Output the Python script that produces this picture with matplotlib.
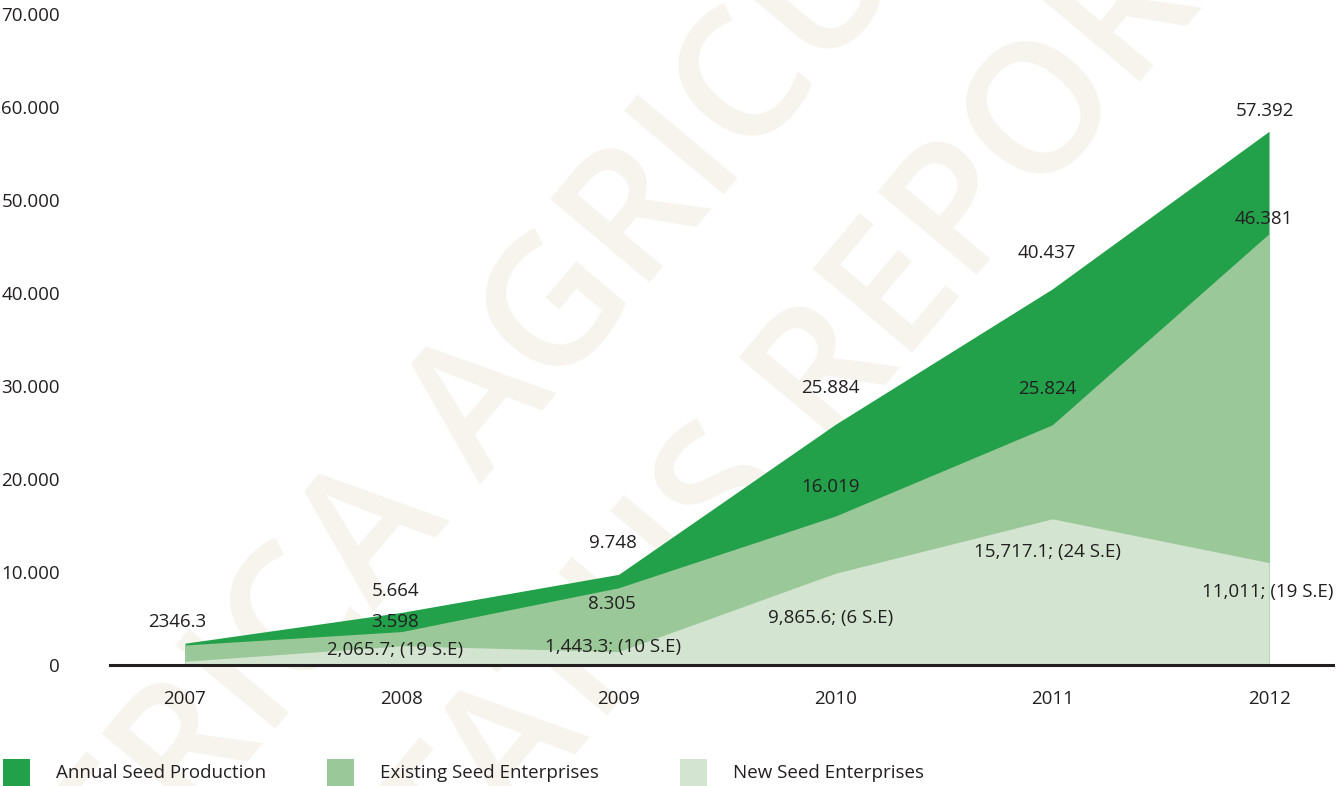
import matplotlib
matplotlib.use('Agg')
import matplotlib.pyplot as plt
from matplotlib.patches import Rectangle
from matplotlib.ticker import FuncFormatter

plt.rcParams['font.family'] = ['Open Sans', 'DejaVu Sans']

# data
years = [2007, 2008, 2009, 2010, 2011, 2012]
annual = [2346.3, 5664, 9748, 25884, 40437, 57392]
existing = [2150, 3598, 8305, 16019, 25824, 46381]      # 2007 value not labelled, read off the shape
new = [400, 2065.7, 1443.3, 9865.6, 15717.1, 11011]     # 2007 value not labelled, read off the shape

annual_labels = ['2346.3', '5.664', '9.748', '25.884', '40.437', '57.392']
existing_labels = ['', '3.598', '8.305', '16.019', '25.824', '46.381']
new_labels = ['', '2,065.7; (19 S.E)', '1,443.3; (10 S.E)', '9,865.6; (6 S.E)',
              '15,717.1; (24 S.E)', '11,011; (19 S.E)']

series_names = ['Annual Seed Production', 'Existing Seed Enterprises', 'New Seed Enterprises']
colors = ['#22a14a', '#9bc899', '#d3e5d1']
text_col = '#231f20'

# label offsets in pixels (dx, dy)
annual_off = [(-8, 21), (-6, 21), (-6, 31), (-5, 36), (-5, 36), (-4, 20)]
existing_off = [(0, 0), (-7, 10), (-7, -16), (-5, 29), (-5, 36), (-5, 15)]
new_off = [(0, 0), (-7, -4), (-6, 5), (-5, -45), (-5, -33), (-1, -29)]

fig = plt.figure(figsize=(13.36, 7.86), dpi=100)
ax = fig.add_axes([110 / 1336, 1 - 665 / 786, 1223 / 1336, 651 / 786])
ax.patch.set_visible(False)

# faint watermark behind everything
wm = dict(color='#f7f4ee', fontsize=130, fontweight='semibold', rotation=50,
          ha='center', va='center', rotation_mode='anchor', zorder=-5)
fig.text(620 / 1336, 1 - 245 / 786, 'AFRICA AGRICULTURE', **wm)
fig.text(795 / 1336, 1 - 420 / 786, 'STATUS REPORT', **wm)

ax.fill_between(years, 0, annual, color=colors[0], lw=0, zorder=1)
ax.fill_between(years, 0, existing, color=colors[1], lw=0, zorder=2)
ax.fill_between(years, 0, new, color=colors[2], lw=0, zorder=3)

for vals, labs, offs in [(annual, annual_labels, annual_off),
                         (existing, existing_labels, existing_off),
                         (new, new_labels, new_off)]:
    for x, v, t, (dx, dy) in zip(years, vals, labs, offs):
        if t:
            ax.annotate(t, (x, v), xytext=(dx, dy), textcoords='offset pixels',
                        ha='center', va='center', fontsize=13.5, color=text_col, zorder=5)

ax.set_xlim(2006.654, 2012.295)
ax.set_ylim(0, 70000)
ax.set_xticks(years)
ax.set_yticks(range(0, 70001, 10000))
ax.yaxis.set_major_formatter(FuncFormatter(lambda v, p: '0' if v == 0 else f'{int(v):,}'.replace(',', '.')))
ax.tick_params(length=0, labelsize=13.5, labelcolor=text_col)
ax.tick_params(axis='y', pad=36)
ax.tick_params(axis='x', pad=18)
for s in ['top', 'right', 'left']:
    ax.spines[s].set_visible(False)
ax.spines['bottom'].set_color('#231f20')
ax.spines['bottom'].set_linewidth(2.2)
ax.spines['bottom'].set_zorder(6)

# legend row at the bottom
leg_x = [3, 327, 680]
for name, c, x0 in zip(series_names, colors, leg_x):
    fig.patches.append(Rectangle((x0 / 1336, 0), 27 / 1336, 27 / 786,
                                 transform=fig.transFigure, color=c, lw=0))
    fig.text((x0 + 53) / 1336, 1 - 773 / 786, name, fontsize=13.5, color=text_col,
             ha='left', va='center')

fig.savefig('out.png', dpi=100)
